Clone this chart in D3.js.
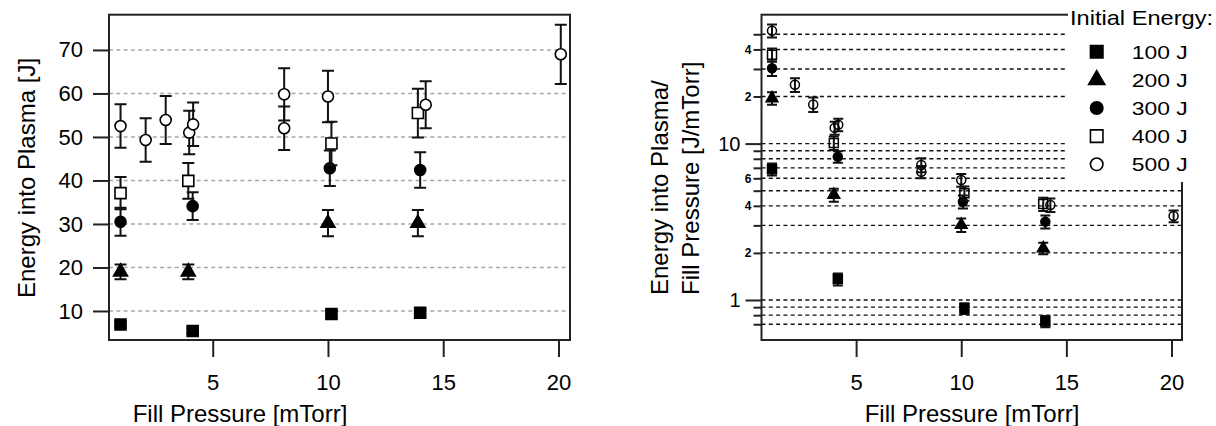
<!DOCTYPE html>
<html><head><meta charset="utf-8">
<script src="https://cdn.jsdelivr.net/npm/d3@7"></script>
<style>
html,body{margin:0;padding:0;background:#fff;}
svg{display:block;}
text{font-family:"Liberation Sans",Arial,sans-serif;fill:#000;}
</style></head>
<body>
<svg id="chart" width="1216" height="426"></svg>
<script>
// ---------- data ----------
const seriesNames = ["100 J", "200 J", "300 J", "400 J", "500 J"];
const legendTitle = "Initial Energy:";
const xTicks = [5, 10, 15, 20];
const leftYTicks = [10, 20, 30, 40, 50, 60, 70];
const rightMajorTicks = [1, 10];
const rightLabeledMinor = [2, 4, 6, 20, 40];
const rightPlainMinor = [0.7, 0.8, 0.9, 3, 5, 7, 8, 9, 30, 50];

// fill pressure [mTorr] per series (small offsets as plotted)
const p100 = [1.0, 4.13, 10.15, 14.0];
const p200 = [1.0, 3.94, 10.0, 13.9];
const p300 = [1.0, 4.13, 10.08, 14.0];
const p400 = [1.0, 3.94, 10.15, 13.9];
const p500 = [1.0, 2.09, 2.96, 3.98, 4.15, 8.1, 8.1, 10.0, 14.24, 20.1];

// energy into plasma [J] and its error
const e100 = [6.9, 5.4, 9.3, 9.6];
const de100 = [0.7, 0.6, 0.8, 0.8];
const e200 = [19.0, 19.0, 30.2, 30.2];
const de200 = [1.7, 1.7, 3.0, 3.0];
const e300 = [30.5, 34.1, 42.8, 42.4];
const de300 = [3.2, 3.2, 4.1, 4.1];
const e400 = [37.1, 39.9, 48.5, 55.5];
const de400 = [3.7, 4.1, 5.0, 5.6];
const e500 = [52.5, 49.3, 53.9, 51.0, 52.9, 52.0, 59.8, 59.3, 57.4, 69.0];
const de500 = [5.0, 5.0, 5.5, 5.0, 5.0, 5.0, 6.0, 5.9, 5.4, 6.8];

// energy / fill pressure [J/mTorr] and its error
const r100 = [6.85, 1.36, 0.885, 0.73];
const dr100 = [0.6, 0.12, 0.07, 0.06];
const r200 = [19.5, 4.7, 3.02, 2.14];
const dr200 = [1.8, 0.45, 0.3, 0.18];
const r300 = [30.3, 8.25, 4.25, 3.17];
const dr300 = [3.2, 0.7, 0.4, 0.3];
const r400 = [37.0, 10.1, 4.81, 4.11];
const dr400 = [3.5, 1.0, 0.5, 0.4];
const r500 = [52.7, 23.8, 17.8, 12.6, 13.2, 6.6, 7.3, 5.85, 4.05, 3.44];
const dr500 = [5.0, 2.4, 1.9, 1.2, 1.2, 0.6, 0.75, 0.55, 0.4, 0.3];

// ---------- build table ----------
const series = [
  {name: seriesNames[0], shape: d3.symbolSquare, filled: true, p: p100, e: e100, de: de100, r: r100, dr: dr100},
  {name: seriesNames[1], shape: d3.symbolTriangle, filled: true, p: p200, e: e200, de: de200, r: r200, dr: dr200},
  {name: seriesNames[2], shape: d3.symbolCircle, filled: true, p: p300, e: e300, de: de300, r: r300, dr: dr300},
  {name: seriesNames[3], shape: d3.symbolSquare, filled: false, p: p400, e: e400, de: de400, r: r400, dr: dr400},
  {name: seriesNames[4], shape: d3.symbolCircle, filled: false, p: p500, e: e500, de: de500, r: r500, dr: dr500}
];
function symSize(shape, s) {
  if (shape === d3.symbolSquare) return s * s;
  if (shape === d3.symbolTriangle) return s * s * 0.5;
  return Math.PI * (s / 2) * (s / 2);
}

const svg = d3.select("#chart");
const FONT = '"Liberation Sans",Arial,sans-serif';

// ---------- LEFT PANEL ----------
const L = {x0: 109, x1: 570, y0: 14.7, y1: 340};
const xL = d3.scaleLinear().domain([0.5, 20.5]).range([L.x0, L.x1]);
const yL = d3.scaleLinear().domain([3.33, 78.1]).range([L.y1, L.y0]);

const gL = svg.append("g");
gL.selectAll("line.grid").data(leftYTicks).join("line")
  .attr("x1", L.x0).attr("x2", L.x1)
  .attr("y1", d => yL(d)).attr("y2", d => yL(d))
  .attr("stroke", "#a8a8a8").attr("stroke-width", 1.5).attr("stroke-dasharray", "4,3.3");

const axL = gL.append("g").attr("transform", `translate(${L.x0},0)`)
  .call(d3.axisLeft(yL).tickValues(leftYTicks).tickSize(16).tickPadding(10));
const axLB = gL.append("g").attr("transform", `translate(0,${L.y1})`)
  .call(d3.axisBottom(xL).tickValues(xTicks).tickSize(17).tickPadding(17));
[axL, axLB].forEach(a => {
  a.select(".domain").remove();
  a.selectAll(".tick line").attr("stroke", "#222").attr("stroke-width", 2);
  a.selectAll(".tick text").attr("font-size", 22).attr("font-family", FONT).attr("fill", "#000");
});

gL.append("rect").attr("x", L.x0).attr("y", L.y0).attr("width", L.x1 - L.x0).attr("height", L.y1 - L.y0)
  .attr("fill", "none").attr("stroke", "#222").attr("stroke-width", 2);

series.forEach(s => {
  const pts = s.p.map((p, i) => ({p, v: s.e[i], d: s.de[i]}));
  const g = gL.append("g");
  g.selectAll("path.eb").data(pts).join("path")
    .attr("d", d => {
      const x = xL(d.p), yt = yL(d.v + d.d), yb = yL(d.v - d.d), w = 6;
      return `M${x},${yt}V${yb}M${x - w},${yt}H${x + w}M${x - w},${yb}H${x + w}`;
    })
    .attr("stroke", "#111").attr("stroke-width", 2).attr("fill", "none");
  g.selectAll("path.mk").data(pts).join("path")
    .attr("transform", d => `translate(${xL(d.p)},${yL(d.v)})`)
    .attr("d", d3.symbol().type(s.shape).size(symSize(s.shape, s.shape === d3.symbolTriangle ? 13 : 11)))
    .attr("fill", s.filled ? "#000" : "#fff").attr("stroke", "#000").attr("stroke-width", 1.6);
});

svg.append("text").attr("transform", "translate(35,178) rotate(-90)")
  .attr("text-anchor", "middle").attr("font-size", 24).text("Energy into Plasma [J]");
svg.append("text").attr("x", 240).attr("y", 422)
  .attr("text-anchor", "middle").attr("font-size", 24).text("Fill Pressure [mTorr]");

// ---------- RIGHT PANEL ----------
const R = {x0: 761.5, x1: 1182, y0: 14.7, y1: 340};
const xR = d3.scaleLinear().domain([0.5, 20.5]).range([R.x0, R.x1]);
const yR = d3.scaleLog().domain([0.555, 66.7]).range([R.y1, R.y0]);

const gR = svg.append("g");
const allGrid = rightMajorTicks.concat(rightLabeledMinor, rightPlainMinor);
gR.selectAll("line.grid").data(allGrid).join("line")
  .attr("x1", R.x0).attr("x2", R.x1)
  .attr("y1", d => yR(d)).attr("y2", d => yR(d))
  .attr("stroke", "#111").attr("stroke-width", 1.4).attr("stroke-dasharray", "4,3.3");

const axRmaj = gR.append("g").attr("transform", `translate(${R.x0},0)`)
  .call(d3.axisLeft(yR).tickValues(rightMajorTicks).tickSize(16).tickPadding(5).tickFormat(d3.format("d")));
const axRlab = gR.append("g").attr("transform", `translate(${R.x0},0)`)
  .call(d3.axisLeft(yR).tickValues(rightLabeledMinor).tickSize(8).tickPadding(2)
    .tickFormat(d => String(d >= 10 ? d / 10 : d)));
const axRplain = gR.append("g").attr("transform", `translate(${R.x0},0)`)
  .call(d3.axisLeft(yR).tickValues(rightPlainMinor).tickSize(8).tickFormat(""));
const axRB = gR.append("g").attr("transform", `translate(0,${R.y1})`)
  .call(d3.axisBottom(xR).tickValues(xTicks).tickSize(17).tickPadding(17));
[axRmaj, axRlab, axRplain, axRB].forEach(a => {
  a.select(".domain").remove();
  a.selectAll(".tick line").attr("stroke", "#222").attr("stroke-width", 2);
  a.selectAll(".tick text").attr("font-family", FONT).attr("fill", "#000");
});
axRmaj.selectAll(".tick text").attr("font-size", 20);
axRlab.selectAll(".tick text").attr("font-size", 12).attr("font-weight", "bold");
axRB.selectAll(".tick text").attr("font-size", 22);

gR.append("rect").attr("x", R.x0).attr("y", R.y0).attr("width", R.x1 - R.x0).attr("height", R.y1 - R.y0)
  .attr("fill", "none").attr("stroke", "#222").attr("stroke-width", 2);

series.forEach(s => {
  const pts = s.p.map((p, i) => ({p, v: s.r[i], d: s.dr[i]}));
  const g = gR.append("g");
  g.selectAll("path.eb").data(pts).join("path")
    .attr("d", d => {
      const x = xR(d.p), yt = yR(d.v + d.d), yb = yR(d.v - d.d), w = 5;
      return `M${x},${yt}V${yb}M${x - w},${yt}H${x + w}M${x - w},${yb}H${x + w}`;
    })
    .attr("stroke", "#111").attr("stroke-width", 2).attr("fill", "none");
  g.selectAll("path.mk").data(pts).join("path")
    .attr("transform", d => `translate(${xR(d.p)},${yR(d.v)})`)
    .attr("d", d3.symbol().type(s.shape).size(symSize(s.shape, s.shape === d3.symbolTriangle ? 11 : 9)))
    .attr("fill", s.filled ? "#000" : "none").attr("stroke", "#000").attr("stroke-width", 1.5);
});

// right titles
svg.append("text").attr("transform", "translate(668,295) rotate(-90)")
  .attr("text-anchor", "start").attr("font-size", 24).text("Energy into Plasma/");
svg.append("text").attr("transform", "translate(699,295) rotate(-90)")
  .attr("text-anchor", "start").attr("font-size", 24).text("Fill Pressure [J/mTorr]");
svg.append("text").attr("x", 972).attr("y", 422)
  .attr("text-anchor", "middle").attr("font-size", 24).text("Fill Pressure [mTorr]");

// ---------- LEGEND ----------
const lg = svg.append("g");
lg.append("rect").attr("x", 1068).attr("y", 0).attr("width", 148).attr("height", 182).attr("fill", "#fff");
lg.append("text").attr("x", 1070).attr("y", 25).attr("font-size", 21)
  .attr("textLength", 143).attr("lengthAdjust", "spacingAndGlyphs").text(legendTitle);
const rowY = d3.scalePoint().domain(seriesNames).range([51.7, 164.3]);
series.forEach(s => {
  const y = rowY(s.name);
  lg.append("path").attr("transform", `translate(1096.7,${y})`)
    .attr("d", d3.symbol().type(s.shape).size(symSize(s.shape, s.shape === d3.symbolTriangle ? 15 : 12.5)))
    .attr("fill", s.filled ? "#000" : "#fff").attr("stroke", "#000").attr("stroke-width", 1.6);
  lg.append("text").attr("x", 1131.7).attr("y", y + 7).attr("font-size", 19)
    .attr("textLength", 56).attr("lengthAdjust", "spacingAndGlyphs").text(s.name);
});
</script>
</body></html>
